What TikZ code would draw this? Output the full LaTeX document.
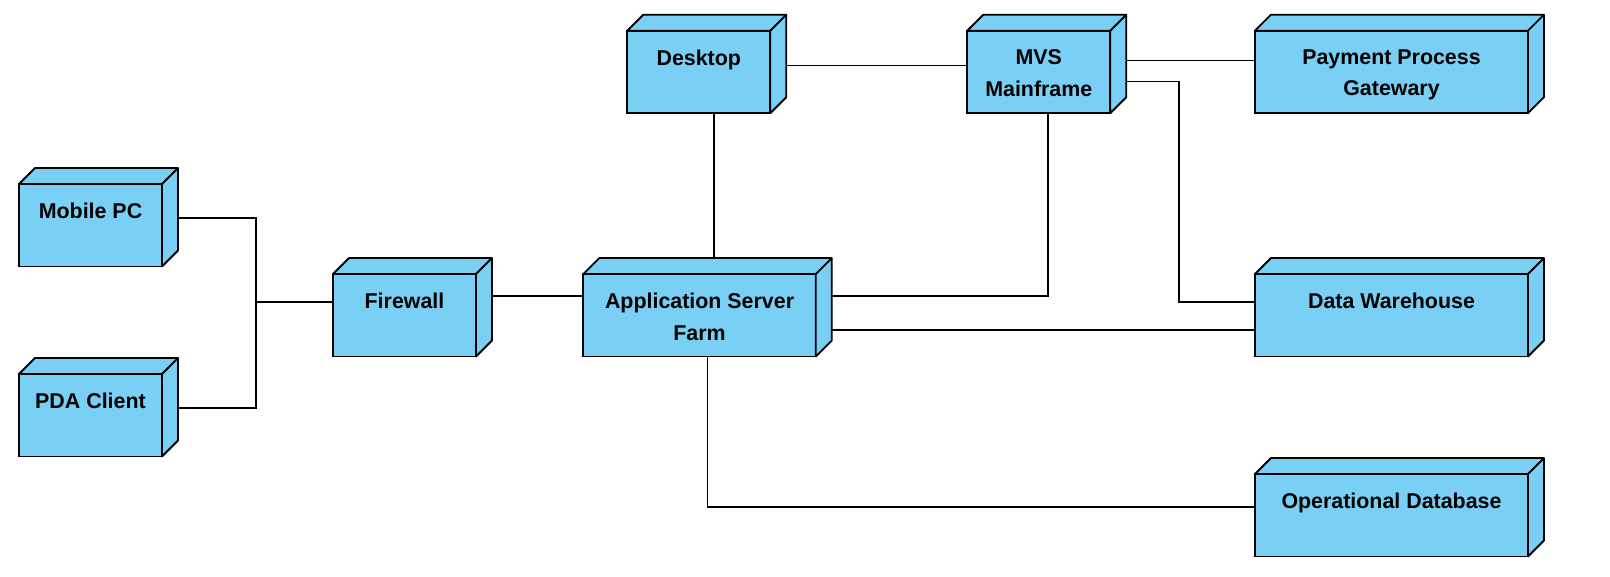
\documentclass[tikz,border=0pt]{standalone}
\usepackage{fontspec}
\setmainfont{Liberation Sans}
\usetikzlibrary{calc,backgrounds}
\definecolor{nodeblue}{RGB}{122,207,245}
\begin{document}
\begin{tikzpicture}[x=1pt,y=-1pt,
  box/.style={draw=black, fill=nodeblue, line width=1.8pt, rectangle, anchor=north west,
    inner sep=0pt, outer sep=0pt, minimum height=82.5pt},
  lbl/.style={font=\fontsize{21.4}{31.5}\selectfont\bfseries, align=center, anchor=north,
    inner sep=0pt, yshift=-18.8pt},
  face/.style={draw=black, fill=nodeblue, line width=1.8pt, line join=round},
  conn/.style={draw=black, line width=1.5pt}]
\useasboundingbox (0,0) rectangle (1610,577);

\node[box, minimum width=143pt, label={[lbl]north:Mobile PC}] (mobile) at (19,184) {};
\node[box, minimum width=143pt, label={[lbl]north:PDA Client}] (pda) at (19,374) {};
\node[box, minimum width=143pt, label={[lbl]north:Firewall}] (fw) at (333,274) {};
\node[box, minimum width=232.5pt, label={[lbl]north:{Application Server\\Farm}}] (app) at (583.3,274) {};
\node[box, minimum width=143pt, label={[lbl]north:Desktop}] (desk) at (627.3,30.7) {};
\node[box, minimum width=143pt, label={[lbl]north:{MVS\\Mainframe}}] (mvs) at (967.3,30.7) {};
\node[box, minimum width=273pt, label={[lbl]north:{Payment Process\\Gatewary}}] (pay) at (1255,30.7) {};
\node[box, minimum width=273pt, label={[lbl]north:Data Warehouse}] (dw) at (1255,274) {};
\node[box, minimum width=273pt, label={[lbl]north:Operational Database}] (opdb) at (1255,474) {};

\foreach \n in {mobile,pda,fw,app,desk,mvs,pay,dw,opdb} {
  \path[face] (\n.north west) -- ++(16,-16) -- ([shift={(16,-16)}]\n.north east)
    -- ([shift={(16,-16)}]\n.south east) -- (\n.south east) -- (\n.north east) -- cycle;
  \draw[face] (\n.north east) -- ++(16,-16);
}

\begin{pgfonlayer}{background}
\fill[white] (0,0) rectangle (1610,577);
\coordinate (bus) at (256,302);
\coordinate (mvsdw) at (1179,302);
\draw[conn] ([yshift=-34pt]mobile.north east) -| (bus);
\draw[conn] ([yshift=-34pt]pda.north east) -| (bus);
\draw[conn] (bus) -- (bus -| fw.west);
\draw[conn] ([yshift=-22pt]fw.north east) -- ([yshift=-22pt]app.north west);
\draw[conn] ([xshift=15pt]desk.south) -- ([xshift=15pt]desk.south |- app.north);
\draw[conn] ([yshift=-35pt]desk.north east) -- ([yshift=-35pt]mvs.north west);
\draw[conn] ([yshift=-30pt]mvs.north east) -- ([yshift=-30pt]pay.north west);
\draw[conn] ([yshift=-51pt]mvs.north east) -| (mvsdw) -- (mvsdw -| dw.west);
\draw[conn] ([xshift=9pt]mvs.south) |- ([yshift=-22pt]app.north east);
\draw[conn] ([yshift=-56pt]app.north east) -- ([yshift=-56pt]dw.north west);
\draw[conn] ([xshift=8pt]app.south) |- ([yshift=-33pt]opdb.north west);
\end{pgfonlayer}
\end{tikzpicture}
\end{document}
